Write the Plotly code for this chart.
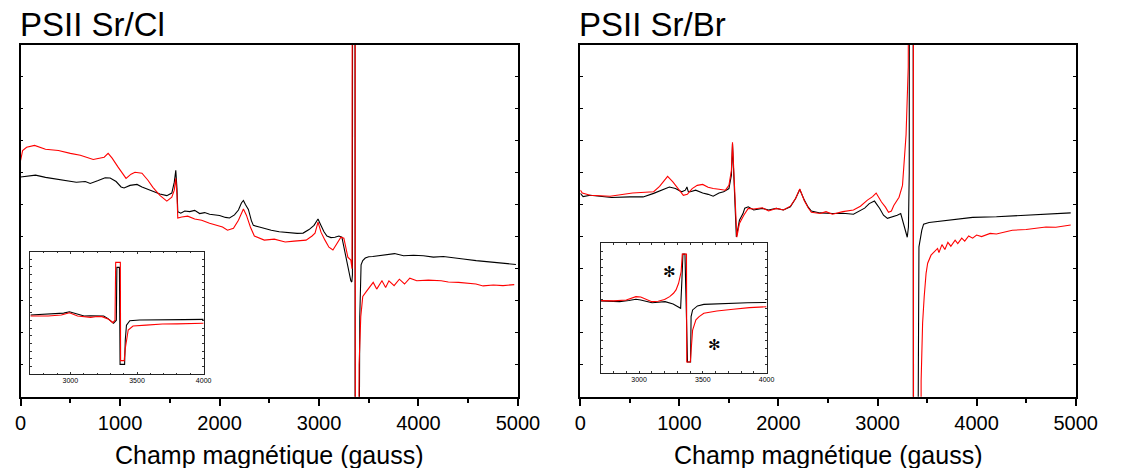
import plotly.graph_objects as go

# ---------------- data (field in gauss, signal in arbitrary units) ----------------
# Left panel: PSII Sr/Cl
cl_black_x = [0, 50, 150, 250, 350, 450, 560, 650, 700, 780, 850, 900, 960, 1010, 1040, 1100, 1170, 1220,
              1280, 1330, 1400, 1470, 1520, 1545, 1560, 1572, 1580, 1610, 1650, 1700, 1750, 1800, 1850,
              1900, 1960, 2000, 2060, 2100, 2150, 2190, 2220, 2240, 2260, 2290, 2320, 2340, 2400, 2450,
              2520, 2600, 2700, 2780, 2840, 2900, 2950, 2990, 3020, 3050, 3080, 3120, 3160, 3200, 3230,
              3260, 3290, 3320, 3330, 3336, 3340, 3360, 3366, 3400, 3410, 3423, 3440, 3465, 3500, 3540,
              3600, 3680, 3760, 3850, 3950, 4050, 4150, 4250, 4370, 4450, 4580, 4680, 4800, 4900, 4980]
cl_black_y = [6.86, 6.88, 6.92, 6.85, 6.80, 6.74, 6.70, 6.72, 6.66, 6.75, 6.84, 6.83, 6.72, 6.55, 6.52, 6.60, 6.63, 6.55,
              6.48, 6.40, 6.33, 6.28, 6.36, 6.70, 7.07, 6.50, 5.78, 5.73, 5.80, 5.78, 5.82, 5.72, 5.75,
              5.70, 5.68, 5.66, 5.60, 5.58, 5.68, 5.83, 6.05, 6.13, 6.00, 5.85, 5.50, 5.35, 5.30, 5.25,
              5.20, 5.15, 5.12, 5.10, 5.11, 5.22, 5.35, 5.55, 5.35, 5.15, 5.02, 4.97, 4.98, 5.02, 4.98,
              4.50, 4.05, 3.62, 3.58, 3.80, 30, 30, -30, -30, 2.5, 4.12, 4.25, 4.33, 4.37, 4.38,
              4.40, 4.42, 4.47, 4.40, 4.42, 4.40, 4.36, 4.38, 4.32, 4.30, 4.25, 4.22, 4.18, 4.15, 4.13]

cl_red_x = [0, 20, 60, 140, 250, 380, 500, 600, 730, 800, 840, 880, 920, 980, 1060, 1110, 1150, 1220, 1280,
            1330, 1400, 1470, 1520, 1545, 1560, 1572, 1580, 1620, 1680, 1750, 1820, 1900, 1960, 2030, 2080,
            2140, 2190, 2240, 2270, 2310, 2350, 2450, 2550, 2660, 2750, 2870, 2930, 2960, 2990, 3020, 3060,
            3100, 3140, 3180, 3220, 3250, 3290, 3320, 3332, 3338, 3362, 3368, 3397, 3403, 3420, 3440, 3475,
            3510, 3545, 3580, 3633, 3670, 3703, 3755, 3808, 3860, 3913, 3983, 4100, 4228, 4300, 4403, 4500,
            4578, 4650, 4753, 4850, 4963]
cl_red_y = [7.38, 7.69, 7.79, 7.85, 7.73, 7.69, 7.60, 7.54, 7.41, 7.45, 7.48, 7.60, 7.45, 7.17, 6.82, 6.95, 7.01, 6.98, 6.76,
            6.54, 6.29, 6.11, 6.23, 6.45, 6.82, 6.29, 5.58, 5.61, 5.64, 5.55, 5.51, 5.42, 5.36, 5.30, 5.20,
            5.26, 5.51, 5.86, 5.67, 5.30, 5.02, 4.89, 4.92, 4.83, 4.86, 4.89, 5.02, 5.11, 5.45, 5.14, 4.89,
            4.67, 4.58, 4.80, 4.98, 4.95, 4.36, 4.27, 4.00, 30, 30, -30, -30, 1.0, 2.5, 3.13, 3.28,
            3.41, 3.57, 3.36, 3.62, 3.41, 3.62, 3.47, 3.67, 3.52, 3.70, 3.62, 3.64, 3.62, 3.58, 3.57, 3.55,
            3.52, 3.46, 3.49, 3.47, 3.50]

# Right panel: PSII Sr/Br
br_black_x = [0, 28, 100, 315, 500, 634, 740, 820, 899, 960, 1023, 1060, 1076, 1090, 1111, 1164, 1235, 1290,
              1341, 1400, 1447, 1500, 1525, 1536, 1553, 1565, 1575, 1606, 1642, 1660, 1695, 1750, 1837, 1900,
              1978, 2050, 2120, 2173, 2215, 2261, 2300, 2332, 2420, 2545, 2650, 2757, 2827, 2870, 2916, 2969,
              3022, 3060, 3100, 3150, 3199, 3234, 3270, 3300, 3312, 3320, 3324, 3358, 3364, 3402, 3410, 3418,
              3447, 3465, 3520, 3571, 3700, 3800, 3960, 4200, 4490, 4700, 4950]
br_black_y = [6.35, 6.25, 6.29, 6.22, 6.24, 6.24, 6.35, 6.45, 6.55, 6.50, 6.40, 6.45, 6.55, 6.40, 6.40, 6.45, 6.36, 6.32,
              6.26, 6.36, 6.40, 6.50, 6.92, 7.90, 6.55, 5.51, 4.99, 5.51, 5.72, 5.89, 5.93, 5.83, 5.88, 5.83,
              5.88, 5.83, 5.93, 6.19, 6.47, 6.14, 5.92, 5.80, 5.74, 5.72, 5.73, 5.70, 5.83, 5.89, 6.03, 6.11,
              5.88, 5.67, 5.57, 5.61, 5.67, 5.72, 5.31, 4.98, 5.30, 7.00, 30, 30, -30, -30, 3.5, 4.68,
              5.20, 5.39, 5.44, 5.46, 5.52, 5.55, 5.60, 5.62, 5.67, 5.70, 5.74]

br_red_x = [0, 20, 100, 300, 527, 740, 800, 850, 881, 934, 980, 1040, 1080, 1129, 1180, 1235, 1290, 1341, 1400,
            1465, 1500, 1525, 1536, 1553, 1565, 1580, 1606, 1650, 1695, 1750, 1837, 1900, 1978, 2050, 2120, 2173,
            2215, 2261, 2300, 2332, 2420, 2480, 2545, 2650, 2757, 2827, 2898, 2950, 2986, 3040, 3080, 3111, 3140,
            3164, 3217, 3252, 3288, 3310, 3325, 3360, 3366, 3432, 3440, 3455, 3471, 3490, 3506, 3540, 3606, 3620,
            3650, 3680, 3710, 3740, 3783, 3810, 3850, 3880, 3920, 3960, 4000, 4050, 4137, 4200, 4360, 4500, 4700,
            4800, 4950]
br_red_y = [6.45, 6.36, 6.29, 6.26, 6.36, 6.40, 6.57, 6.76, 6.88, 6.71, 6.51, 6.29, 6.32, 6.50, 6.60, 6.63, 6.54, 6.50, 6.48,
            6.45, 6.60, 7.07, 7.95, 6.76, 5.51, 4.98, 5.41, 5.67, 5.88, 5.86, 5.90, 5.80, 5.88, 5.83, 5.95, 6.19,
            6.49, 6.12, 5.90, 5.76, 5.72, 5.78, 5.70, 5.78, 5.83, 5.95, 6.14, 6.25, 6.36, 6.08, 5.92, 5.76, 5.80,
            5.97, 6.23, 6.60, 8.18, 10.3, 30, 30, -30, -30, 0.5, 2.3, 3.12, 3.85, 4.17, 4.42, 4.63, 4.50,
            4.75, 4.60, 4.82, 4.70, 4.89, 4.78, 4.95, 4.86, 5.02, 4.95, 5.05, 5.00, 5.10, 5.08, 5.20, 5.22, 5.30,
            5.29, 5.36]

# Insets (zoom 2700-4000 G)
cl_in_black_x = [2700, 2760, 2833, 2900, 2950, 2993, 3030, 3070, 3103, 3150, 3200, 3250, 3280, 3310, 3324, 3345,
                 3349, 3368, 3373, 3407, 3412, 3421, 3446, 3520, 3600, 3765, 3850, 4000]
cl_in_black_y = [4.82, 4.85, 4.91, 4.93, 4.98, 5.09, 4.96, 4.85, 4.74, 4.76, 4.78, 4.74, 4.55, 4.25, 4.15, 4.40,
                 8.72, 8.72, 0.79, 0.79, 2.78, 4.00, 4.36, 4.42, 4.44, 4.47, 4.45, 4.47]
cl_in_red_x = [2700, 2760, 2833, 2932, 2993, 3054, 3100, 3152, 3200, 3237, 3287, 3318, 3335, 3340, 3375, 3377,
               3404, 3412, 3434, 3470, 3568, 3691, 3800, 3900, 4000]
cl_in_red_y = [4.74, 4.72, 4.74, 4.82, 5.01, 4.74, 4.68, 4.63, 4.70, 4.69, 4.47, 4.20, 4.40, 9.13, 9.13, 1.09,
               1.09, 2.10, 3.60, 3.92, 4.00, 4.09, 4.10, 4.13, 4.15]

br_in_black_x = [2700, 2760, 2847, 2920, 2975, 3013, 3060, 3102, 3150, 3204, 3267, 3305, 3326, 3336, 3344,
                 3360, 3380, 3404, 3408, 3420, 3458, 3508, 3600, 3738, 3850, 4000]
br_in_black_y = [5.55, 5.52, 5.49, 5.58, 5.68, 5.62, 5.48, 5.41, 5.45, 5.49, 5.31, 5.06, 4.98, 7.17, 9.16,
                 9.16, 0.83, 0.83, 4.33, 4.85, 5.16, 5.28, 5.32, 5.35, 5.40, 5.43]
br_in_red_x = [2700, 2800, 2900, 2975, 3013, 3050, 3100, 3150, 3200, 3240, 3270, 3290, 3310, 3330, 3339, 3372,
               3374, 3402, 3420, 3446, 3471, 3508, 3610, 3738, 3865, 4000]
br_in_red_y = [5.57, 5.55, 5.62, 5.88, 5.85, 5.72, 5.49, 5.52, 5.65, 5.88, 6.14, 6.40, 6.91, 7.80, 9.16, 9.16,
               0.83, 0.83, 3.30, 4.08, 4.33, 4.59, 4.77, 4.90, 5.03, 5.10]

main_ticks = [0, 1000, 2000, 3000, 4000, 5000]
inset_ticks = [3000, 3500, 4000]
titles = ["PSII Sr/Cl", "PSII Sr/Br"]
xlabel = "Champ magnétique (gauss)"
star = "✻"
star_x = [3242, 3593]
star_y = [7.77, 2.14]

# ---------------- figure ----------------
W, H = 1124, 468
FONT = "Liberation Sans, Arial, sans-serif"


def fx(px):
    return px / W


def fy(py):
    return (H - py) / H


fig = go.Figure()
line_w = 1.1
series = [
    (cl_black_x, cl_black_y, "black", "x", "y"),
    (cl_red_x, cl_red_y, "red", "x", "y"),
    (br_black_x, br_black_y, "black", "x2", "y2"),
    (br_red_x, br_red_y, "red", "x2", "y2"),
    (cl_in_black_x, cl_in_black_y, "black", "x3", "y3"),
    (cl_in_red_x, cl_in_red_y, "red", "x3", "y3"),
    (br_in_black_x, br_in_black_y, "black", "x4", "y4"),
    (br_in_red_x, br_in_red_y, "red", "x4", "y4"),
]
for xs, ys, col, xa, ya in series:
    fig.add_trace(go.Scatter(x=xs, y=ys, mode="lines", xaxis=xa, yaxis=ya,
                             line=dict(color="#000000" if col == "black" else "#ff0000", width=line_w),
                             showlegend=False, hoverinfo="skip"))

main_x = dict(range=[0, 5000], tickvals=main_ticks, ticks="outside", ticklen=7, tickwidth=1.5,
              minor=dict(ticks="outside", dtick=500, tick0=0, ticklen=4, tickwidth=1.5, tickcolor="#000"),
              showline=True, linecolor="#000", linewidth=1.6, mirror=True, showgrid=False, zeroline=False,
              tickfont=dict(family=FONT, size=20, color="#000"), tickcolor="#000")
top_x = dict(range=[0, 5000], dtick=500, tick0=0, ticks="inside", ticklen=3, tickwidth=1,
             tickcolor="#444", showticklabels=False, showline=False, showgrid=False, zeroline=False,
             side="top")
main_y = dict(range=[0, 11], dtick=1, tick0=0, ticks="inside", ticklen=3, tickcolor="#000",
              showticklabels=False, showline=True, linecolor="#000", linewidth=1.5, mirror="ticks",
              showgrid=False, zeroline=False)
in_x = dict(range=[2700, 4000], tickvals=inset_ticks, ticks="inside", ticklen=2, tickcolor="#333",
            minor=dict(ticks="inside", dtick=100, tick0=2700, ticklen=1.5, tickcolor="#333"),
            showline=True, linecolor="#222", linewidth=1, mirror="ticks", showgrid=False, zeroline=False,
            tickfont=dict(family=FONT, size=7, color="#000"))
in_y = dict(range=[0, 10], dtick=0.625, tick0=0, ticks="inside", ticklen=2, tickcolor="#333",
            showticklabels=False, showline=True, linecolor="#222", linewidth=1, mirror="ticks",
            showgrid=False, zeroline=False)

ydom = [fy(396.7), fy(44.5)]
fig.update_layout(
    width=W, height=H, autosize=False, margin=dict(l=0, r=0, t=0, b=0, pad=0),
    paper_bgcolor="white", plot_bgcolor="white",
    xaxis=dict(domain=[fx(15), fx(525)], anchor="y", **main_x),
    yaxis=dict(domain=ydom, anchor="x", **main_y),
    xaxis2=dict(domain=[fx(589), fx(1097)], anchor="y2", **main_x),
    yaxis2=dict(domain=ydom, anchor="x2", **main_y),
    xaxis3=dict(domain=[fx(25), fx(202.7)], anchor="y3", **in_x),
    yaxis3=dict(domain=[fy(374), fy(251.7)], anchor="x3", **in_y),
    xaxis4=dict(domain=[fx(610), fx(780)], anchor="y4", **in_x),
    yaxis4=dict(domain=[fy(372.7), fy(243.3)], anchor="x4", **in_y),
    xaxis5=dict(overlaying="x", anchor="y", **top_x),
    xaxis6=dict(overlaying="x2", anchor="y2", **top_x),
)

# panel titles
for t, px in zip(titles, [12, 586]):
    fig.add_annotation(text=t, x=fx(px), y=fy(45), xref="paper", yref="paper",
                       xanchor="left", yanchor="bottom", showarrow=False,
                       font=dict(family=FONT, size=33, color="#000"))
# x-axis titles
for cx in [(15 + 525) / 2, (589 + 1097) / 2]:
    fig.add_annotation(text=xlabel, x=fx(cx), y=fy(455), xref="paper", yref="paper",
                       xanchor="center", yanchor="middle", showarrow=False,
                       font=dict(family=FONT, size=25, color="#000"))
# asterisks in right inset
for sx, sy in zip(star_x, star_y):
    fig.add_annotation(text=star, x=sx, y=sy, xref="x4", yref="y4", showarrow=False,
                       font=dict(family="DejaVu Sans", size=15, color="#000"))

fig.write_html("out.html", config={"displayModeBar": False, "responsive": False},
               post_script="document.body.style.margin='0';document.body.style.overflow='hidden';")
